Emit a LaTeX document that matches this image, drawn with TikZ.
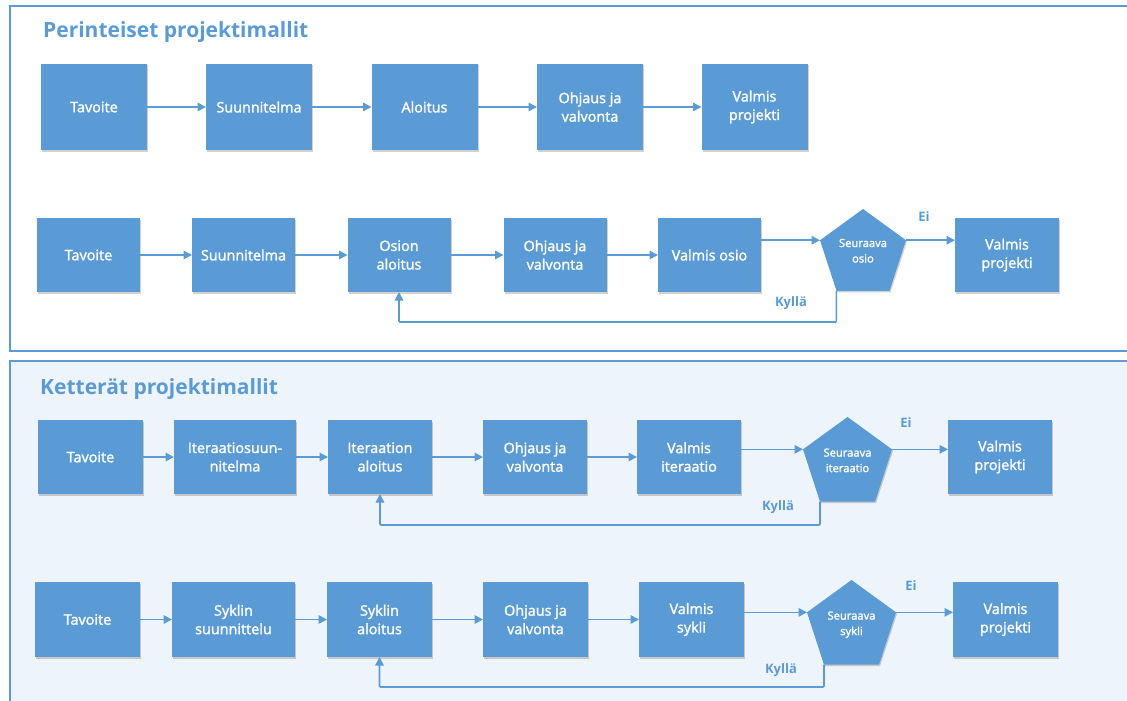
\documentclass[tikz,border=0pt]{standalone}
\usepackage{fontspec}
\setmainfont{Open Sans}
\newfontfamily\semib[FakeBold=1.6]{Open Sans}
\usetikzlibrary{arrows.meta,shapes.geometric,shadows}
\definecolor{boxblue}{HTML}{5B9BD5}
\definecolor{panelbg}{HTML}{EEF4FB}
\begin{document}
\begin{tikzpicture}[x=1pt,y=-1pt,
  blk/.style={fill=boxblue,text=white,inner sep=0pt,outer sep=0pt,align=center,
    font=\semib\fontsize{14.4}{18.5}\selectfont,
    drop shadow={shadow xshift=1pt,shadow yshift=-1.5pt,opacity=0.18,fill=black}},
  pent/.style={regular polygon,regular polygon sides=5,fill=boxblue,text=white,
    inner sep=0pt,outer sep=0pt,align=center,text depth=7pt,
    font=\semib\fontsize{11.2}{15.5}\selectfont,
    drop shadow={shadow xshift=1pt,shadow yshift=-1.5pt,opacity=0.18,fill=black}},
  flow/.style={draw=boxblue,line width=1.6pt,-{Triangle[length=8.5pt,width=8.5pt]}},
  lbl/.style={text=boxblue,inner sep=0pt,font=\fontsize{13}{15}\selectfont\bfseries},
  ttl/.style={text=boxblue,inner sep=0pt,anchor=west,font=\fontsize{21}{24}\selectfont\bfseries},
  frm/.style={draw=boxblue,line width=1.2pt}
]
\useasboundingbox (0,0) rectangle (1127,701);
\clip (0,0) rectangle (1127,701);
% frames
\draw[frm,fill=white] (10,6) rectangle (1140,351);
\draw[frm,fill=panelbg] (10,361) rectangle (1140,720);
% titles
\node[ttl] (T1) at (43,32) {Perinteiset projektimallit};
\node[ttl] (T2) at (40,389) {Ketterät projektimallit};

% ---------- Row 1
\begin{scope}[every node/.append style={minimum width=106pt,minimum height=86pt}]
\node[blk] (t1) at (94,107) {Tavoite};
\node[blk] (s1) at (259,107) {Suunnitelma};
\node[blk] (a1) at (424.5,107) {Aloitus};
\node[blk] (o1) at (590,107) {Ohjaus ja\\valvonta};
\node[blk] (v1) at (754.5,107) {Valmis\\projekti};
\end{scope}
\draw[flow] (t1) -- (s1);
\draw[flow] (s1) -- (a1);
\draw[flow] (a1) -- (o1);
\draw[flow] (o1) -- (v1);

% ---------- Row 2
\begin{scope}[every node/.append style={minimum width=103pt,minimum height=74pt}]
\node[blk] (t2) at (88.5,255) {Tavoite};
\node[blk] (s2) at (243.5,255) {Suunnitelma};
\node[blk] (a2) at (399,255) {Osion\\aloitus};
\node[blk] (o2) at (555,255) {Ohjaus ja\\valvonta};
\node[blk] (v2) at (709.5,255) {Valmis osio};
\node[blk,minimum width=104pt] (e2) at (1007,255) {Valmis\\projekti};
\end{scope}
\node[pent,minimum size=90.4pt] (p2) at (863,254.2) {Seuraava\\osio};
\node[lbl] (ei2) at (924,217) {Ei};
\node[lbl] (ky2) at (791,303) {Kyllä};
\draw[flow] (t2) -- (s2);
\draw[flow] (s2) -- (a2);
\draw[flow] (a2) -- (o2);
\draw[flow] (o2) -- (v2);
\draw[flow] (v2.east |- p2.corner 2) -- (p2.corner 2);
\draw[flow] (p2.corner 5) -- (p2.corner 5 -| e2.west);
\draw[flow,rounded corners=1pt] (p2.corner 3) -- (p2.corner 3 |- 0,322) -| (a2.south);

% ---------- Row 3
\begin{scope}[every node/.append style={minimum height=74pt}]
\node[blk,minimum width=105pt] (t3) at (90.5,457) {Tavoite};
\node[blk,minimum width=122pt] (s3) at (235,457) {Iteraatiosuun-\\nitelma};
\node[blk,minimum width=104pt] (a3) at (380,457) {Iteraation\\aloitus};
\node[blk,minimum width=104pt] (o3) at (535,457) {Ohjaus ja\\valvonta};
\node[blk,minimum width=104pt] (v3) at (689,457) {Valmis\\iteraatio};
\node[blk,minimum width=104pt] (e3) at (1000,457) {Valmis\\projekti};
\end{scope}
\node[pent,minimum size=93.6pt] (p3) at (847.5,463.8) {Seuraava\\iteraatio};
\node[lbl] (ei3) at (906,423) {Ei};
\node[lbl] (ky3) at (778,507) {Kyllä};
\draw[flow] (t3) -- (s3);
\draw[flow] (s3) -- (a3);
\draw[flow] (a3) -- (o3);
\draw[flow] (o3) -- (v3);
\draw[flow] (v3.east |- p3.corner 2) -- (p3.corner 2);
\draw[flow] (p3.corner 5) -- (p3.corner 5 -| e3.west);
\draw[flow,rounded corners=1pt] (p3.corner 3) -- (p3.corner 3 |- 0,525) -| (a3.south);

% ---------- Row 4
\begin{scope}[every node/.append style={minimum height=75pt}]
\node[blk,minimum width=105pt] (t4) at (87.5,619.5) {Tavoite};
\node[blk,minimum width=123pt] (s4) at (233.5,619.5) {Syklin\\suunnittelu};
\node[blk,minimum width=105pt] (a4) at (379.5,619.5) {Syklin\\aloitus};
\node[blk,minimum width=105pt] (o4) at (535.5,619.5) {Ohjaus ja\\valvonta};
\node[blk,minimum width=105pt] (v4) at (691.5,619.5) {Valmis\\sykli};
\node[blk,minimum width=105pt] (e4) at (1005.5,619.5) {Valmis\\projekti};
\end{scope}
\node[pent,minimum size=93.6pt] (p4) at (851.5,626.8) {Seuraava\\sykli};
\node[lbl] (ei4) at (911,586) {Ei};
\node[lbl] (ky4) at (781,670) {Kyllä};
\draw[flow] (t4) -- (s4);
\draw[flow] (s4) -- (a4);
\draw[flow] (a4) -- (o4);
\draw[flow] (o4) -- (v4);
\draw[flow] (v4.east |- p4.corner 2) -- (p4.corner 2);
\draw[flow] (p4.corner 5) -- (p4.corner 5 -| e4.west);
\draw[flow,rounded corners=1pt] (p4.corner 3) -- (p4.corner 3 |- 0,687) -| (a4.south);
\end{tikzpicture}
\end{document}
